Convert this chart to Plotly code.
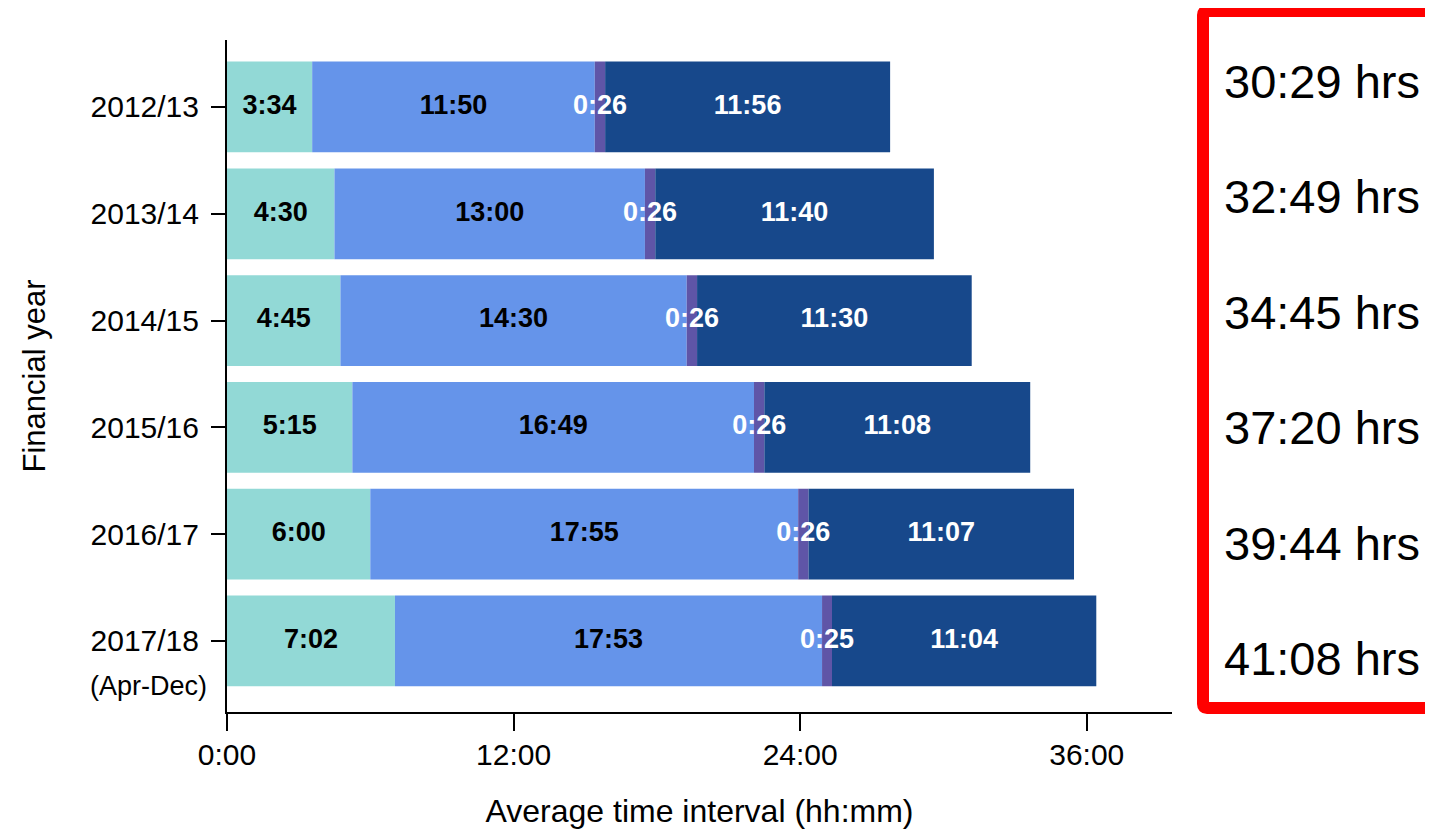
import plotly.graph_objects as go

years = ["2012/13", "2013/14", "2014/15", "2015/16", "2016/17", "2017/18"]
seg1 = ["3:34", "4:30", "4:45", "5:15", "6:00", "7:02"]
seg2 = ["11:50", "13:00", "14:30", "16:49", "17:55", "17:53"]
seg3 = ["0:26", "0:26", "0:26", "0:26", "0:26", "0:25"]
seg4 = ["11:56", "11:40", "11:30", "11:08", "11:07", "11:04"]
totals = ["30:29 hrs", "32:49 hrs", "34:45 hrs", "37:20 hrs", "39:44 hrs", "41:08 hrs"]
x_tickvals = [0, 12, 24, 36]
x_ticktext = ["0:00", "12:00", "24:00", "36:00"]

colors = ["#92D9D6", "#6594EA", "#5F55A7", "#17488B"]
text_colors = ["black", "black", "white", "white"]
FONT = "Liberation Sans, Arial, sans-serif"


def to_hours(s):
    h, m = s.split(":")
    return int(h) + int(m) / 60.0


segments = [seg1, seg2, seg3, seg4]
fig = go.Figure()
base = [0.0] * len(years)
label_traces = []
for seg, col, tcol in zip(segments, colors, text_colors):
    vals = [to_hours(v) for v in seg]
    fig.add_trace(go.Bar(
        y=years, x=vals, base=base, orientation="h", width=0.85,
        marker=dict(color=col, line=dict(width=0)),
        showlegend=False, hoverinfo="skip",
    ))
    mids = [b + v / 2 for b, v in zip(base, vals)]
    label_traces.append(go.Scatter(
        y=years, x=mids, mode="text", text=["<b>" + s + "</b>" for s in seg],
        textfont=dict(family=FONT, size=27, color=tcol),
        textposition="middle center", showlegend=False, hoverinfo="skip",
        cliponaxis=False,
    ))
    base = [b + v for b, v in zip(base, vals)]

for t in label_traces:
    fig.add_trace(t)

# page body has an 8px margin: figure is offset by (8, 8) on screen
OFF = 8
W, H = 1433 - OFF, 834 - OFF
L, R, T, B = 227 - OFF, 261, 40 - OFF, 122
pw = W - L - R
ph = H - T - B


def px_x(px):
    return (px - OFF - L) / pw


def px_y(py):
    return (H - B - (py - OFF)) / ph


x0, x1, y0, y1 = px_x(1203), px_x(1470), px_y(708), px_y(11)
rx = 4 / pw
ry = 4 / ph
path = (f"M {x1},{y1} L {x0 + rx},{y1} Q {x0},{y1} {x0},{y1 - ry} "
        f"L {x0},{y0 + ry} Q {x0},{y0} {x0 + rx},{y0} L {x1},{y0}")
shapes = [dict(
    type="path", xref="paper", yref="paper", path=path,
    line=dict(color="#FF0000", width=12),
)]

annotations = []
total_y = [81, 197, 312, 428, 543, 658]
for t, yy in zip(totals, total_y):
    annotations.append(dict(
        text=t, xref="paper", yref="paper", x=px_x(1222), y=px_y(yy),
        xanchor="left", yanchor="middle", showarrow=False,
        font=dict(family=FONT, size=47, color="black"),
    ))
annotations.append(dict(
    text="(Apr-Dec)", xref="paper", yref="y", x=px_x(209), y=years[-1],
    yshift=-45, xanchor="right", yanchor="middle", showarrow=False,
    font=dict(family=FONT, size=27, color="black"),
))

fig.update_layout(
    width=W, height=H, barmode="overlay",
    margin=dict(l=L, r=R, t=T, b=B),
    plot_bgcolor="white", paper_bgcolor="white",
    font=dict(family=FONT, color="black"),
    shapes=shapes, annotations=annotations,
    xaxis=dict(
        range=[0, 39.57], tickvals=x_tickvals, ticktext=x_ticktext,
        showgrid=False, zeroline=False, showline=True, linecolor="black",
        linewidth=2, ticks="outside", ticklen=17, tickwidth=2, tickcolor="black",
        tickfont=dict(size=30, family=FONT), ticklabelstandoff=-2,
        title=dict(text="Average time interval (hh:mm)",
                   font=dict(size=32, family=FONT), standoff=30),
    ),
    yaxis=dict(
        type="category", categoryorder="array", categoryarray=years,
        range=[5.665, -0.627], showgrid=False, zeroline=False,
        showline=True, linecolor="black", linewidth=2,
        ticks="outside", ticklen=14, tickwidth=2, tickcolor="black",
        tickfont=dict(size=30, family=FONT), ticklabelstandoff=6,
        title=dict(text="Financial year", font=dict(size=31, family=FONT),
                   standoff=36),
    ),
)

fig.write_html("out.html")
